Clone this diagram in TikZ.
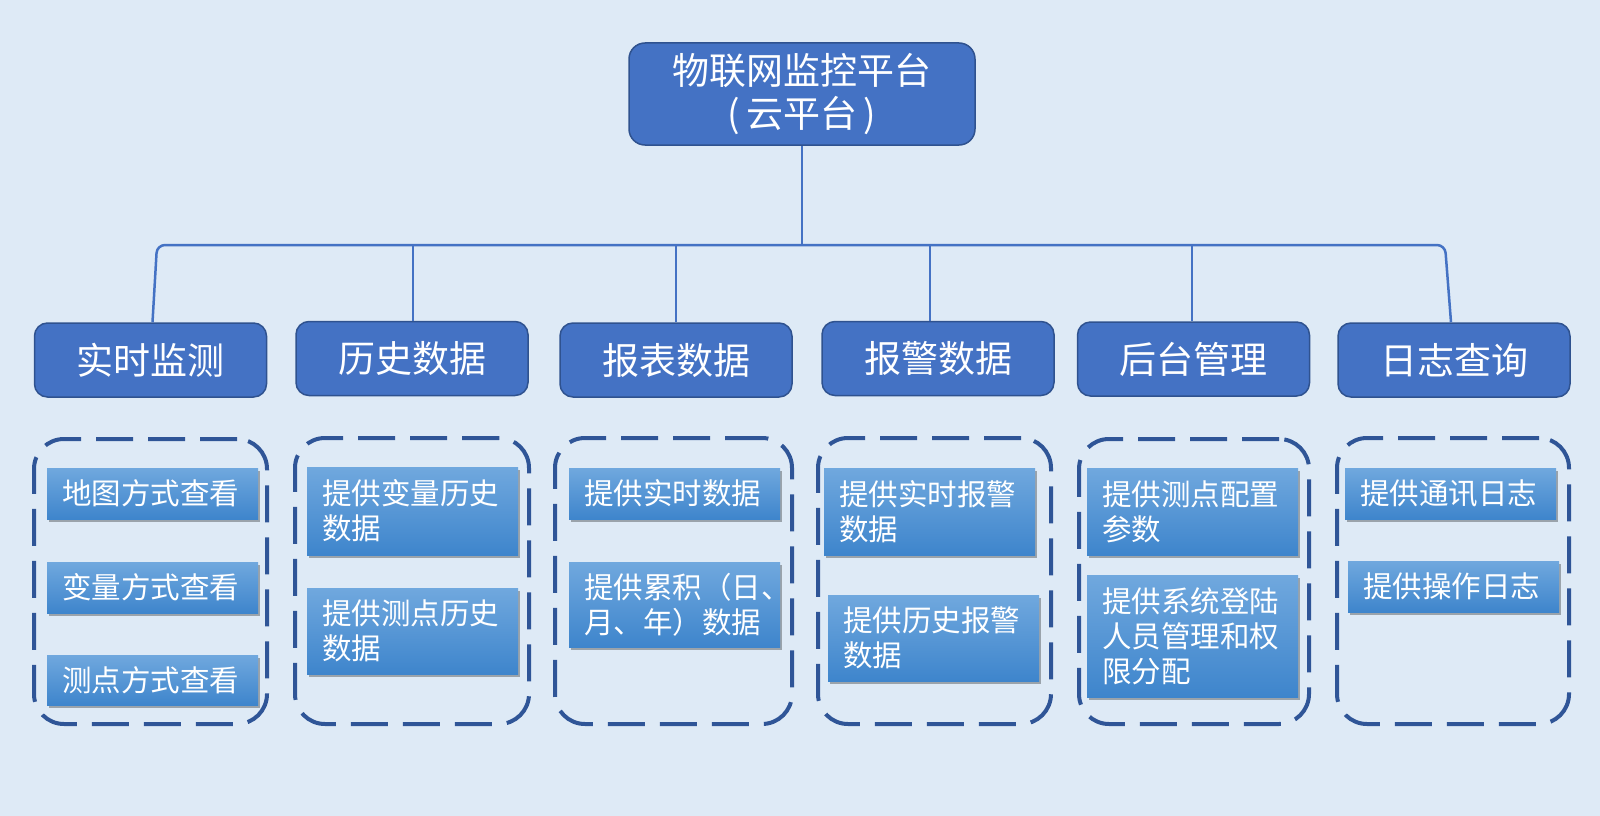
\documentclass[tikz,border=0pt]{standalone}
\usepackage{fontspec}
\newfontfamily\cjk{Noto Sans CJK SC}
\usetikzlibrary{shadows}
\definecolor{bgc}{RGB}{222,234,246}
\definecolor{boxfill}{RGB}{68,114,196}
\definecolor{boxline}{RGB}{47,82,143}
\definecolor{dashc}{RGB}{47,85,151}
\definecolor{gtop}{RGB}{112,168,222}
\definecolor{gbot}{RGB}{62,133,204}
\tikzset{
  mainbox/.style={draw=boxline, fill=boxfill, line width=1.5pt, rounded corners=16pt,
    minimum width=346pt, minimum height=102pt, align=center, text=white,
    font=\cjk\fontsize{37}{43}\selectfont, inner sep=0pt},
  catbox/.style={draw=boxline, fill=boxfill, line width=1.5pt, rounded corners=13pt,
    minimum width=232pt, minimum height=74pt, text=white,
    font=\cjk\fontsize{37}{42}\selectfont, inner sep=0pt},
  groupbox/.style={draw=dashc, line width=4pt, dash pattern=on 37pt off 15pt,
    rounded corners=30pt, inner sep=0pt},
  itembox/.style={top color=gtop, bottom color=gbot, draw=none, text=white,
    text width=181pt, align=left, inner xsep=15pt, inner ysep=0pt,
    font=\cjk\fontsize{29.5}{35}\selectfont,
    drop shadow={shadow xshift=2pt, shadow yshift=-3pt, opacity=0.3, fill=black}},
  conn/.style={draw=boxfill, line width=2.5pt},
}
\begin{document}
\begin{tikzpicture}[x=1pt, y=-1pt]
\fill[bgc] (0,0) rectangle (1600,816);
\useasboundingbox (0,0) rectangle (1600,816);

% top node
\node[mainbox] (top) at (802,94) {物联网监控平台\\(\,云平台\,)};

% category nodes
\node[catbox] (c1) at (150.5,360) {实时监测};
\node[catbox] (c2) at (412,358.5) {历史数据};
\node[catbox] (c3) at (676,360) {报表数据};
\node[catbox] (c4) at (938,358.5) {报警数据};
\node[catbox] (c5) at (1193.5,359) {后台管理};
\node[catbox] (c6) at (1454,360) {日志查询};

% bus
\coordinate (busL) at (157,245);
\coordinate (busR) at (1445,245);
\coordinate (b2) at (413,245);
\coordinate (b3) at (676,245);
\coordinate (b4) at (930,245);
\coordinate (b5) at (1192,245);
\draw[conn] (top.south) -- (top.south |- busL);
\draw[conn, rounded corners=8pt] ([xshift=2pt]c1.north) -- (busL) -- (busR) -- ([xshift=-3pt]c6.north);
\draw[conn] (b2) -- (b2 |- c2.north);
\draw[conn] (b3) -- (b3 |- c3.north);
\draw[conn] (b4) -- (b4 |- c4.north);
\draw[conn] (b5) -- (b5 |- c5.north);

% dashed groups
\node[groupbox, minimum width=233pt, minimum height=285pt] (g1) at (150.5,581.5) {};
\node[groupbox, minimum width=234pt, minimum height=286pt] (g2) at (412,581) {};
\node[groupbox, minimum width=237pt, minimum height=286pt] (g3) at (673.5,581) {};
\node[groupbox, minimum width=233pt, minimum height=286pt] (g4) at (934.5,581) {};
\node[groupbox, minimum width=230pt, minimum height=285pt] (g5) at (1194,581.5) {};
\node[groupbox, minimum width=232pt, minimum height=286pt] (g6) at (1453,581) {};

% items group 1
\node[itembox, minimum height=51pt] (i11) at (152.5,493.5) {地图方式查看};
\node[itembox, minimum height=51pt] (i12) at (152.5,587.5) {变量方式查看};
\node[itembox, minimum height=50pt] (i13) at (152.5,680) {测点方式查看};
% group 2
\node[itembox, minimum height=88pt] (i21) at (412.5,511) {提供变量历史\\数据};
\node[itembox, minimum height=86pt] (i22) at (412.5,631) {提供测点历史\\数据};
% group 3
\node[itembox, minimum height=51pt] (i31) at (674.5,493.5) {提供实时数据};
\node[itembox, minimum height=85pt] (i32) at (674.5,604.5) {提供累积（日、\\月、年）数据};
% group 4
\node[itembox, minimum height=87pt] (i41) at (929.5,511.5) {提供实时报警\\数据};
\node[itembox, minimum height=86pt] (i42) at (933.5,638) {提供历史报警\\数据};
% group 5
\node[itembox, minimum height=87pt] (i51) at (1192.5,511.5) {提供测点配置\\参数};
\node[itembox, minimum height=122pt] (i52) at (1192.5,636) {提供系统登陆\\人员管理和权\\限分配};
% group 6
\node[itembox, minimum height=51pt] (i61) at (1450.5,493.5) {提供通讯日志};
\node[itembox, minimum height=51pt] (i62) at (1453.5,586.5) {提供操作日志};
\end{tikzpicture}
\end{document}
